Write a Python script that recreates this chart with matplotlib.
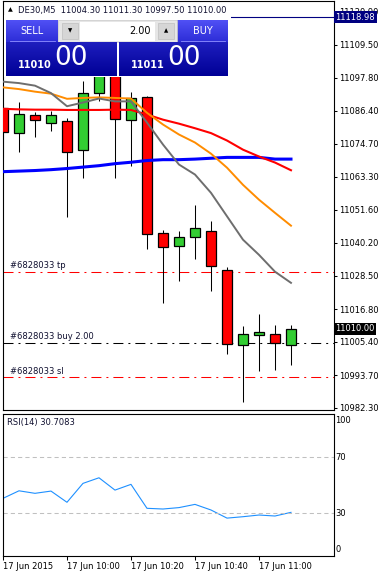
"""DE30 M5 chart (MT4 style) with one-click trade panel, 4 MAs and an RSI(14) pane."""
import numpy as np
import matplotlib
matplotlib.use("Agg")
import matplotlib.pyplot as plt
from matplotlib.patches import Rectangle
from matplotlib.transforms import blended_transform_factory

W, H, DPI = 380, 574, 100

# --------------------------------------------------------------------------- #
# data
SYMBOL = "DE30,M5"
TIME_TICKS = [0, 4, 8, 12, 16]
TIME_LABELS = ["17 Jun 2015", "17 Jun 10:00", "17 Jun 10:20", "17 Jun 10:40", "17 Jun 11:00"]

opens = [11087.4, 11078.7, 11085.0, 11082.1, 11082.9, 11072.7, 11092.6, 11101.0, 11083.0, 11091.2,
         11043.5, 11039.0, 11042.1, 11044.1, 11030.6, 11004.3, 11007.8, 11008.1, 11004.3]
highs = [11089.0, 11089.5, 11085.8, 11086.1, 11083.8, 11096.6, 11104.0, 11105.0, 11092.8, 11091.5,
         11044.7, 11044.3, 11053.4, 11047.8, 11031.6, 11011.0, 11015.2, 11011.4, 11011.3]
lows = [11070.0, 11072.0, 11077.0, 11079.1, 11049.3, 11062.8, 11089.6, 11062.8, 11067.1, 11038.0,
        11019.2, 11026.9, 11034.4, 11023.4, 11001.1, 10984.5, 10995.4, 10995.6, 10997.5]
closes = [11079.0, 11085.3, 11083.0, 11085.0, 11071.9, 11092.6, 11100.5, 11083.5, 11090.8, 11043.2,
          11038.6, 11042.3, 11045.3, 11032.1, 11004.6, 11008.1, 11008.8, 11005.0, 11010.0]

ma_gray = [11096.5, 11096.0, 11095.1, 11092.5, 11087.9, 11089.2, 11090.6, 11089.6, 11089.6, 11082.2,
           11074.5, 11067.5, 11064.0, 11057.6, 11049.4, 11041.2, 11035.9, 11030.0, 11026.1]
ma_orange = [11094.5, 11093.9, 11093.0, 11092.3, 11090.5, 11090.8, 11091.0, 11090.8, 11090.6, 11085.6,
             11081.5, 11078.0, 11075.2, 11071.3, 11066.4, 11060.4, 11055.2, 11050.6, 11046.1]
ma_red = [11087.0, 11086.8, 11086.7, 11086.7, 11086.6, 11086.6, 11086.6, 11086.7, 11086.6, 11085.0,
          11083.2, 11081.8, 11080.2, 11078.5, 11075.9, 11072.7, 11070.3, 11068.2, 11065.5]
ma_blue = [11065.0, 11065.2, 11065.4, 11065.7, 11066.1, 11066.6, 11067.1, 11067.8, 11068.3, 11068.9,
           11069.2, 11069.2, 11069.4, 11069.7, 11070.0, 11070.0, 11070.0, 11069.4, 11069.4]

rsi = [40.7, 46.1, 44.3, 45.9, 37.9, 51.4, 55.4, 46.6, 50.7, 33.6,
       33.1, 34.1, 36.4, 32.4, 26.6, 27.6, 28.8, 28.1, 30.7083]
RSI_TICKS = [100, 70, 30, 0]
RSI_LEVELS = [70, 30]

PRICE_TICKS = [11120.90, 11109.50, 11097.80, 11086.40, 11074.70, 11063.30, 11051.60,
               11040.20, 11028.50, 11016.80, 11005.40, 10993.70, 10982.30]
HLINE = 11118.98
ASK = 11011.00
LOT = 2.00
ORDER_ID = 6828033
ORDER_TP = 11030.0
ORDER_OPEN = 11005.2
ORDER_SL = 10993.0

PRICE_YLIM = (10981.6, 11124.9)
RSI_YLIM = (-0.1, 101.3)

FONT = "DejaVu Sans"
FS = 6.0


# --------------------------------------------------------------------------- #
def px_box(x0, y0, x1, y1):
    return [x0 / W, 1 - y1 / H, (x1 - x0) / W, (y1 - y0) / H]


def grad(ax, x0, y0, x1, y1, c_top, c_bot):
    t = np.linspace(0, 1, 32)[:, None, None]
    img = (1 - t) * np.array(c_top)[None, None, :] + t * np.array(c_bot)[None, None, :]
    ax.imshow(img / 255.0, extent=(x0, x1, y1, y0), aspect="auto",
              interpolation="bilinear", zorder=2)


def draw_candles(ax):
    x = np.arange(len(opens))
    o, h, l, c = map(np.asarray, (opens, highs, lows, closes))
    ax.vlines(x, l, h, color="black", lw=0.75, zorder=2)
    up = c >= o
    body = np.maximum(np.abs(c - o), 0.15)
    ax.bar(x, body, bottom=np.minimum(o, c), width=0.62,
           color=np.where(up, "#32CD32", "#FF0000"), edgecolor="black", lw=0.9, zorder=3)
    ax.plot(x, ma_blue, color="#0000FF", lw=2.2, zorder=4)
    ax.plot(x, ma_red, color="#FF0000", lw=1.5, zorder=4)
    ax.plot(x, ma_orange, color="#FF8C00", lw=1.4, zorder=4)
    ax.plot(x, ma_gray, color="#6E6E6E", lw=1.4, zorder=4)


def main():
    plt.rcParams["font.family"] = [FONT]
    fig = plt.figure(figsize=(W / DPI, H / DPI), dpi=DPI)
    fig.patch.set_facecolor("white")

    n = len(opens)
    xlim = (-0.03, -0.03 + 331 / 16.0)

    # ---- price pane
    ax = fig.add_axes(px_box(2.5, 0.5, 333.5, 410))
    draw_candles(ax)
    ax.set_xlim(*xlim)
    ax.set_ylim(*PRICE_YLIM)
    ax.set_xticks([])
    ax.yaxis.tick_right()
    ax.set_yticks(PRICE_TICKS)
    ax.set_yticklabels([f"{v:.2f}" for v in PRICE_TICKS])
    ax.tick_params(axis="y", length=2.2, width=0.75, pad=1.6, labelsize=FS)
    for s in ax.spines.values():
        s.set_linewidth(0.8)

    ax.axhline(HLINE, color="#000080", lw=0.8, zorder=1)
    dd = (9.6, 4.8, 1.9, 4.8)
    ax.axhline(ORDER_TP, color="#FF0000", lw=0.75, dashes=dd, zorder=1)
    ax.axhline(ORDER_OPEN, color="black", lw=0.75, dashes=dd, zorder=1)
    ax.axhline(ORDER_SL, color="#FF0000", lw=0.75, dashes=dd, zorder=1)
    tr = blended_transform_factory(ax.transAxes, ax.transData)
    for price, txt in [(ORDER_TP, f"#{ORDER_ID} tp"),
                       (ORDER_OPEN, f"#{ORDER_ID} buy {LOT:.2f}"),
                       (ORDER_SL, f"#{ORDER_ID} sl")]:
        ax.text(0.022, price + 0.5, txt, transform=tr, fontsize=FS, color="#101030",
                ha="left", va="bottom", zorder=5)

    lbl = dict(transform=tr, fontsize=FS, color="white", ha="left", va="center",
               clip_on=False, zorder=10)
    ax.text(1.006, HLINE, f"{HLINE:.2f}",
            bbox=dict(boxstyle="square,pad=0.18", fc="#000080", ec="none"), **lbl)
    ax.text(1.006, closes[-1], f"{closes[-1]:.2f}",
            bbox=dict(boxstyle="square,pad=0.18", fc="black", ec="none"), **lbl)

    # ---- RSI pane
    ax2 = fig.add_axes(px_box(2.5, 413.5, 333.5, 555.5))
    ax2.plot(np.arange(n), rsi, color="#1E90FF", lw=0.8)
    for lev in RSI_LEVELS:
        ax2.axhline(lev, color="#C0C0C0", lw=0.75, dashes=(4, 3))
    ax2.set_xlim(*xlim)
    ax2.set_ylim(*RSI_YLIM)
    ax2.set_yticks([])
    tr2 = blended_transform_factory(ax2.transAxes, ax2.transData)
    for v in RSI_TICKS:
        ax2.text(1.005, min(max(v, 4.5), 96), f"{v}", transform=tr2, fontsize=FS,
                 ha="left", va="center", clip_on=False)
    ax2.set_xticks(TIME_TICKS)
    ax2.set_xticklabels(TIME_LABELS, ha="left")
    ax2.tick_params(axis="x", length=3, width=0.75, pad=1.5, labelsize=FS)
    for s in ax2.spines.values():
        s.set_linewidth(0.8)
    ax2.text(0.0136, 0.935, f"RSI(14) {rsi[-1]:.4f}", transform=ax2.transAxes,
             fontsize=FS, color="#101030", ha="left", va="center")

    # ---- header + one-click trading panel (pixel overlay)
    ov = fig.add_axes([0, 0, 1, 1], zorder=5)
    ov.patch.set_visible(False)
    ov.axis("off")
    ov.text(10, 10, "▲", fontsize=4.5, ha="center", va="center")
    ov.text(18, 10, f"{SYMBOL}  {opens[-1]:.2f} {highs[-1]:.2f} {lows[-1]:.2f} {closes[-1]:.2f}",
            fontsize=FS, ha="left", va="center", color="#101030")

    ov.add_patch(Rectangle((3.5, 14.5), 227, 62, fc="white", ec="none", zorder=1))
    # sell / buy buttons
    for x0, x1, txt in [(6, 58, "SELL"), (177, 228, "BUY")]:
        grad(ov, x0, 20, x1, 42, (80, 80, 245), (45, 45, 215))
        ov.plot([x0 + 4, x1 - 3], [41.3, 41.3], color="#9090ff", lw=0.6, zorder=3)
        ov.text((x0 + x1) / 2, 31, txt, fontsize=7, color="white", ha="center",
                va="center", zorder=4)
    # lot spinner
    ov.add_patch(Rectangle((58, 20), 119, 22, fc="#e6e6e6", ec="#c8c8c8", lw=0.5, zorder=2))
    ov.add_patch(Rectangle((80, 22), 75, 19, fc="white", ec="none", zorder=3))
    for bx, sym in [(62, "▼"), (158, "▲")]:
        ov.add_patch(Rectangle((bx, 23), 16, 16, fc="#d6d6d6", ec="#c0c0c0", lw=0.5, zorder=3))
        ov.text(bx + 8, 31, sym, fontsize=4, ha="center", va="center", zorder=4)
    ov.text(151, 31, f"{LOT:.2f}", fontsize=7, ha="right", va="center", zorder=4)
    # price boxes
    for x0, x1, price in [(6, 117, closes[-1]), (119, 228, ASK)]:
        grad(ov, x0, 42, x1, 76, (30, 30, 190), (0, 0, 150))
        big, frac = f"{price:.2f}".split(".")
        ov.text(x0 + 12, 64.5, big, fontsize=7, fontweight="bold", color="white",
                ha="left", va="center", zorder=4)
        ov.text(x0 + 48, 58, frac, fontsize=19, color="white", ha="left",
                va="center", zorder=4)

    ov.set_xlim(0, W)
    ov.set_ylim(H, 0)

    fig.savefig("out.png", dpi=DPI)
    plt.close(fig)


if __name__ == "__main__":
    main()
